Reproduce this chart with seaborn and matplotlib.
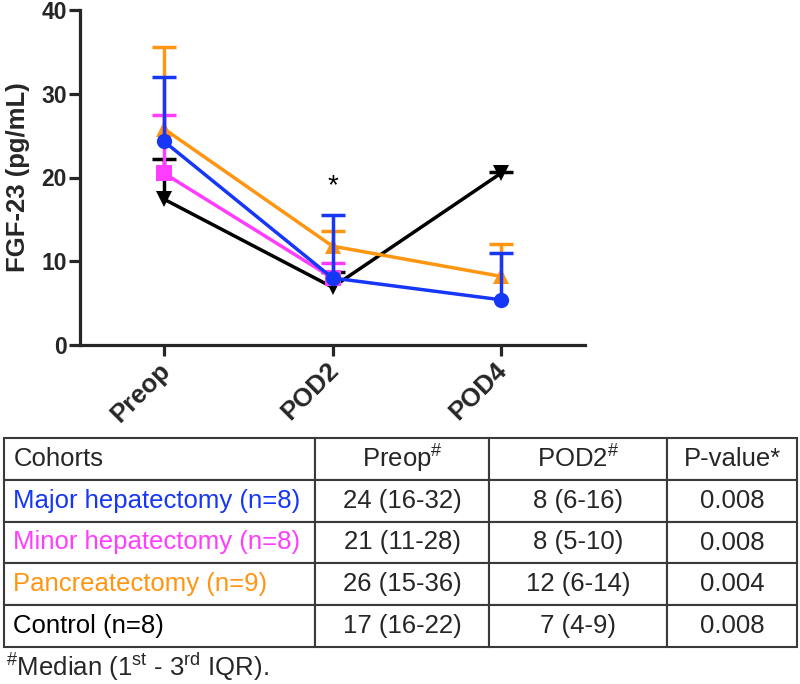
import numpy as np
import pandas as pd
import matplotlib
matplotlib.use("Agg")
import matplotlib.pyplot as plt
import matplotlib.transforms as mtransforms
import seaborn as sns

sns.set_theme(style="ticks")
plt.rcParams.update({
    "font.family": ["Liberation Sans", "DejaVu Sans"],
    "mathtext.fontset": "custom",
    "mathtext.rm": "Liberation Sans",
    "mathtext.it": "Liberation Sans:italic",
    "mathtext.bf": "Liberation Sans:bold",
})

# Data (median and upper IQR bound)
timepoints = ["Preop", "POD2", "POD4"]
cohorts = ["Control", "Pancreatectomy", "Minor hepatectomy", "Major hepatectomy"]
colors = {"Major hepatectomy": "#1637F5", "Minor hepatectomy": "#FF3DFF",
          "Pancreatectomy": "#FF9510", "Control": "#000000"}
markers = {"Major hepatectomy": "o", "Minor hepatectomy": "s",
           "Pancreatectomy": "^", "Control": "v"}

major_median = [24.3, 8.0, 5.4]
major_upper = [32.0, 15.5, 11.0]
minor_median = [20.5, 8.0]
minor_upper = [27.5, 9.8]
panc_median = [25.8, 11.8, 8.2]
panc_upper = [35.6, 13.6, 12.1]
control_median = [17.4, 6.9, 20.5]
control_upper = [22.2, 8.7, 20.7]

# Table contents
table_header = ["Cohorts", r"Preop$^{\#}$", r"POD2$^{\#}$", "P-value*"]
table_cohorts = ["Major hepatectomy (n=8)", "Minor hepatectomy (n=8)",
                 "Pancreatectomy (n=9)", "Control (n=8)"]
table_preop = ["24 (16-32)", "21 (11-28)", "26 (15-36)", "17 (16-22)"]
table_pod2 = ["8 (6-16)", "8 (5-10)", "12 (6-14)", "7 (4-9)"]
table_p = ["0.008", "0.008", "0.004", "0.008"]
table_colors = ["#1637F5", "#FF3DFF", "#FF9510", "#000000"]

series = {
    "Major hepatectomy": (major_median, major_upper),
    "Minor hepatectomy": (minor_median, minor_upper),
    "Pancreatectomy": (panc_median, panc_upper),
    "Control": (control_median, control_upper),
}

rows = []
for name, (med, up) in series.items():
    for i, (m, u) in enumerate(zip(med, up)):
        rows.append({"cohort": name, "x": i, "median": m, "upper": u})
df = pd.DataFrame(rows)

fig = plt.figure(figsize=(8, 6.84), dpi=100)
ax = fig.add_axes([80 / 800, 1 - 345 / 684, 505 / 800, 335 / 684])

for z, name in enumerate(cohorts):
    sub = df[df["cohort"] == name]
    # upper-only error bars (GraphPad style)
    ax.vlines(sub["x"], sub["median"], sub["upper"], color=colors[name],
              linewidth=2.5, zorder=2 + z)
    ax.plot(sub["x"], sub["upper"], linestyle="none", marker="_",
            markersize=17, markeredgewidth=2.5, color=colors[name], zorder=2 + z)
    sns.lineplot(data=sub, x="x", y="median", color=colors[name],
                 marker=markers[name], markersize=11, markeredgewidth=0,
                 linewidth=2.5, ax=ax, legend=False, zorder=2 + z)

ax.text(1, 19.0, "*", ha="center", va="center", fontsize=20, color="black")

ax.set_xlim(-0.5, 2.5)
ax.set_ylim(0, 40)
ax.set_yticks([0, 10, 20, 30, 40])
ax.set_xticks(range(len(timepoints)))
ax.set_xlabel("")
ax.set_ylabel("FGF-23 (pg/mL)", fontsize=18.5, fontweight="bold", labelpad=8)
sns.despine(ax=ax)
for s in ["left", "bottom"]:
    ax.spines[s].set_linewidth(2.3)
ax.tick_params(axis="both", width=2.3, length=8, pad=1.5)

ax.set_xticklabels(timepoints, rotation=45, ha="right", va="top",
                   rotation_mode="anchor", fontsize=18.5, fontweight="bold")
shift = mtransforms.ScaledTranslation(-0.06, 0.0, fig.dpi_scale_trans)
for lab in ax.get_xticklabels():
    lab.set_transform(lab.get_transform() + shift)
for lab in ax.get_yticklabels():
    lab.set_fontsize(16.5)
    lab.set_fontweight("bold")

# Table below the chart
tax = fig.add_axes([4 / 800, 1 - 647 / 684, 793 / 800, 209 / 684])
tax.axis("off")
cell_text = [list(r) for r in zip(table_cohorts, table_preop, table_pod2, table_p)]
tbl = tax.table(cellText=[table_header] + cell_text,
                colWidths=[311, 174, 178, 130],
                bbox=[0, 0, 1, 1], cellLoc="center")
tbl.auto_set_font_size(False)
tbl.set_fontsize(18.5)
for (r, c), cell in tbl.get_celld().items():
    cell.set_edgecolor("#3a3a3a")
    cell.set_linewidth(1.5)
    cell.PAD = 0.03
    txt = cell.get_text()
    if c == 0:
        txt.set_ha("left")
        cell._loc = "left"
    if r >= 1 and c == 0:
        txt.set_color(table_colors[r - 1])

fig.text(6 / 800, 1 - 667 / 684,
         r"$^{\#}$Median (1$^{\mathrm{st}}$ - 3$^{\mathrm{rd}}$ IQR).",
         fontsize=18.5, va="center", ha="left")

fig.savefig("out.png", dpi=100)
